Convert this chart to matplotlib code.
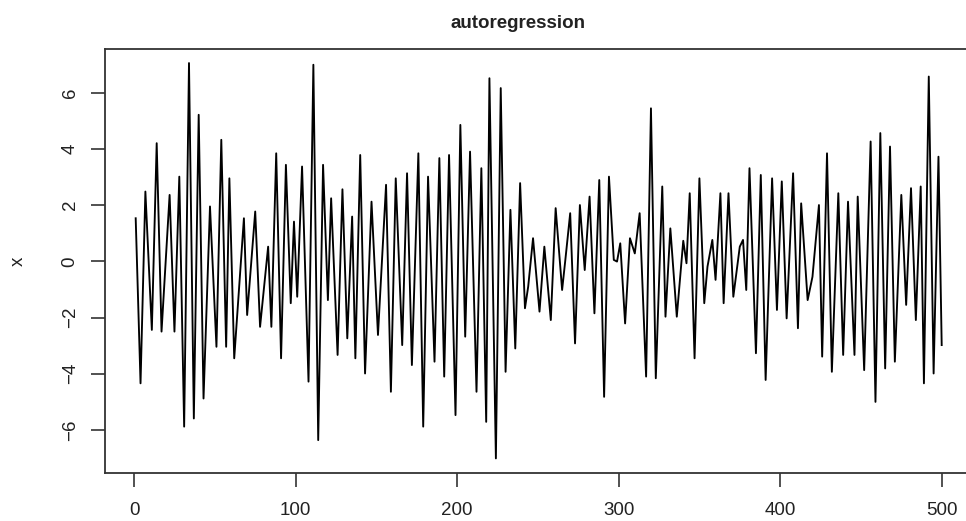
import matplotlib
matplotlib.use("Agg")
import matplotlib.pyplot as plt

# turning points of the simulated AR series (time index, value)
turn_t = [
    1, 4, 7, 11, 14, 17, 22, 25, 28, 31, 34, 37, 40, 43, 47, 51, 54, 57, 59, 62, 68, 70, 75, 78,
    83, 85, 88, 91, 94, 97, 99, 101, 104, 108, 111, 114, 117, 120, 122, 126, 129, 132, 135, 137,
    140, 143, 147, 151, 156, 159, 162, 166,
    169, 172, 176, 179, 182, 186, 189, 192, 195, 199, 202, 205, 208, 212, 215, 218, 220, 224,
    227, 230, 233, 236, 239, 242, 244, 247, 251,
    254, 258, 261, 265, 267, 270, 273, 276, 279, 282, 285, 288, 291, 294, 297, 299, 301, 304,
    307, 310, 313, 317, 320, 323, 327, 329, 332, 336, 340,
    342, 344, 347, 350, 353, 355, 358, 360, 363, 365, 368, 371, 375, 377, 379, 381, 385, 388,
    391, 395, 398, 401, 404, 408, 411, 413, 417, 420, 424, 426,
    429, 432, 436, 439, 442, 446, 448, 452, 456, 459, 462, 465, 468, 471, 475, 478, 481, 484,
    487, 489, 492, 495, 498, 500,
]
turn_x = [
    1.53, -4.34, 2.48, -2.44, 4.20, -2.50, 2.36, -2.50, 3.01, -5.88, 7.05, -5.59, 5.21, -4.88,
    1.95, -3.04, 4.32, -3.04, 2.95, -3.45, 1.53, -1.91, 1.77, -2.33,
    0.52, -2.33, 3.84, -3.45, 3.43, -1.49, 1.41, -1.26, 3.37, -4.28, 6.99, -6.36, 3.43, -1.38,
    2.24, -3.33, 2.56, -2.74, 1.59, -3.45, 3.78, -3.99, 2.12, -2.62, 2.72, -4.64, 2.95, -2.98,
    3.13, -3.69, 3.84, -5.88, 3.01, -3.57, 3.67, -4.10, 3.78, -5.47, 4.85, -2.68, 3.90, -4.64,
    3.31, -5.71, 6.51, -7.01, 6.16, -3.93, 1.83, -3.10, 2.78, -1.67, -0.90, 0.82, -1.79,
    0.52, -2.09, 1.89, -1.02, 0.05, 1.71, -2.92, 2.00, -0.31, 2.30, -1.85, 2.89, -4.82, 3.01,
    0.05, -0.01, 0.64, -2.21, 0.82, 0.28, 1.71, -4.10, 5.44, -4.16, 2.66, -1.97, 1.17, -1.97, 0.73,
    -0.07, 2.42, -3.45, 2.95, -1.49, -0.19, 0.76, -0.66, 2.42, -1.49, 2.42, -1.26, 0.52, 0.76,
    -1.02, 3.31, -3.27, 3.07, -4.22, 2.95, -1.73, 2.84, -2.03, 3.13, -2.38, 2.06, -1.38, -0.55,
    2.00, -3.39,
    3.84, -3.93, 2.42, -3.33, 2.12, -3.33, 2.30, -3.87, 4.26, -5.00, 4.56, -3.81, 4.08, -3.57,
    2.36, -1.55, 2.60, -2.09, 2.66, -4.34, 6.57, -3.99, 3.72, -2.98,
]
x_ticks = [0, 100, 200, 300, 400, 500]
y_ticks = [-6, -4, -2, 0, 2, 4, 6]

plt.rcParams["font.family"] = ["Liberation Sans", "DejaVu Sans"]
TEXT_COLOR = "#222222"

fig = plt.figure(figsize=(9.66, 5.21), dpi=100)
# the plot box runs past the right edge of the reference image
ax = fig.add_axes([105 / 966, 47.7 / 521, 869 / 966, 424.3 / 521])
ax.plot(turn_t, turn_x, color="black", linewidth=1.35)

ax.set_xlim(-18, 520)
ax.set_ylim(-7.54, 7.55)
ax.set_xticks(x_ticks)
ax.set_yticks(y_ticks)
ax.set_yticklabels([str(v).replace("-", "\u2212") for v in y_ticks], rotation=90, va="center")
ax.tick_params(axis="both", direction="out", length=10, width=1.2, colors="#333333",
               labelcolor=TEXT_COLOR, labelsize=13.5)
ax.tick_params(axis="x", pad=11)
ax.tick_params(axis="y", pad=9)
for side in ax.spines.values():
    side.set_linewidth(1.3)
    side.set_color("#333333")

fig.text(518 / 966, 1 - 24 / 521, "autoregression", ha="center", va="center",
         fontsize=13.5, fontweight="bold", color=TEXT_COLOR)
fig.text(18 / 966, 1 - 261 / 521, "x", ha="center", va="center", rotation=90,
         fontsize=13.5, color=TEXT_COLOR)

fig.savefig("out.png", dpi=100)
